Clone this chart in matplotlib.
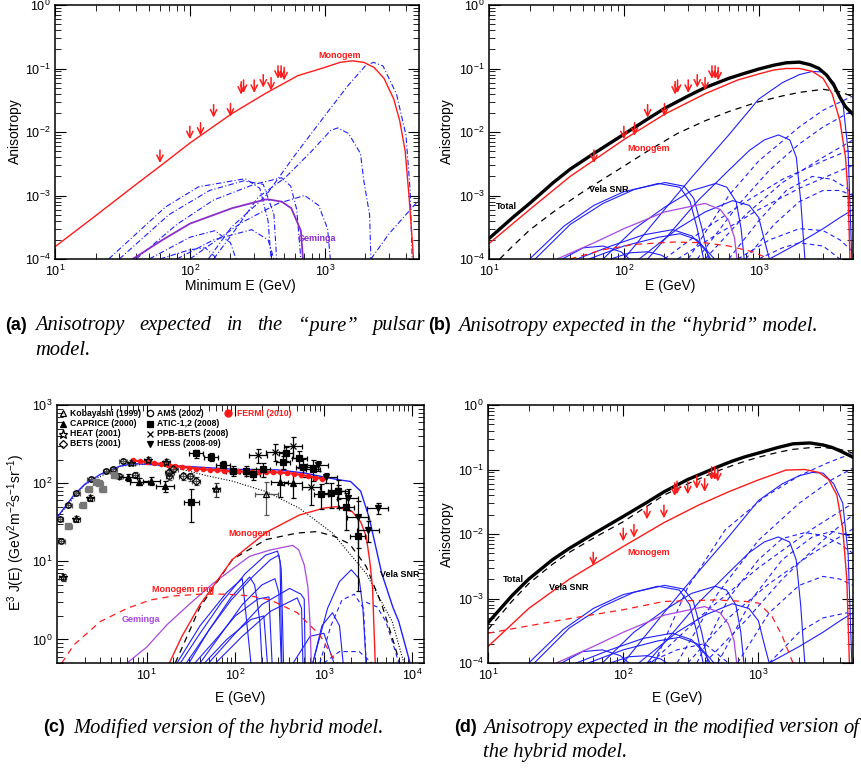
import matplotlib
matplotlib.use("Agg")
import matplotlib.pyplot as plt
from matplotlib.ticker import LogLocator, NullFormatter, FixedLocator

plt.rcParams['font.family'] = ['Liberation Sans', 'DejaVu Sans']
plt.rcParams['mathtext.fontset'] = 'custom'
plt.rcParams['mathtext.rm'] = 'Liberation Sans'
plt.rcParams['mathtext.it'] = 'Liberation Sans:italic'
plt.rcParams['mathtext.bf'] = 'Liberation Sans:bold'

BLUE = '#1f1fff'
RED = '#ff1a1a'
PURPLE_A = '#8a2dc8'
PURPLE = '#a848e0'

# ---------------- Fermi upper limits (same in a, b, d) ----------------
lim_E = [60, 100, 120, 150, 200, 240, 250, 300, 350, 400, 450, 475, 500]
lim_A = [5.2e-3, 0.0123, 0.014, 0.027, 0.028, 0.062, 0.066, 0.066, 0.08, 0.072, 0.11, 0.11, 0.104]

# ---------------- panel (a): pure pulsar model ----------------
a_monogem_E = [10, 20, 40, 62.7, 100, 205, 360, 630, 1000, 1300, 1600, 1950, 2320, 2750, 3250, 3600,
               3950, 4220, 4420, 4550]
a_monogem_A = [1.56e-4, 4.8e-4, 1.5e-3, 3.1e-3, 6.7e-3, 0.0195, 0.04, 0.077, 0.104, 0.125, 0.132, 0.125,
               0.104, 0.07, 0.033, 0.015, 5e-3, 9.5e-4, 2.5e-4, 1e-4]
a_geminga_E = [37.7, 62.7, 100, 205, 360, 380, 480, 565, 665, 690]
a_geminga_A = [1e-4, 2e-4, 3.6e-4, 6.3e-4, 8.6e-4, 8.7e-4, 8.0e-4, 6.3e-4, 2.8e-4, 1e-4]
a_pulsars = [
    ([137, 204, 360, 600, 1000, 1500, 2000, 2300, 2700, 3400, 4000, 4300, 4450],
     [1e-4, 3.2e-4, 9.5e-4, 4.3e-3, 0.018, 0.055, 0.11, 0.125, 0.11, 0.04, 9e-3, 1.2e-3, 1e-4]),
    ([150, 220, 321, 508, 800, 1107, 1250, 1500, 1840, 1950, 2150, 2200],
     [1e-4, 3e-4, 9.4e-4, 1.9e-3, 5e-3, 0.0106, 0.0116, 0.0095, 4.6e-3, 1.7e-3, 5e-4, 1e-4]),
    ([25, 66, 116, 257, 330, 380, 400], [1e-4, 6.6e-4, 1.37e-3, 1.84e-3, 1.3e-3, 4e-4, 1e-4]),
    ([30, 70, 140, 250, 350, 420, 440], [1e-4, 5e-4, 1.2e-3, 1.7e-3, 1.5e-3, 5e-4, 1e-4]),
    ([40, 80, 150, 300, 478, 560, 620, 665], [1e-4, 3.5e-4, 8.5e-4, 1.5e-3, 1.9e-3, 1.4e-3, 6e-4, 1e-4]),
    ([100, 240, 450, 709, 900, 1050, 1100], [1e-4, 3.7e-4, 7.5e-4, 1e-3, 7e-4, 3e-4, 1e-4]),
    ([80, 150, 287, 380, 420], [1e-4, 2e-4, 2.9e-4, 2e-4, 1e-4]),
    ([50, 100, 154, 200, 220], [1e-4, 2.2e-4, 2.8e-4, 1.8e-4, 1e-4]),
    ([60, 100, 130, 160], [1e-4, 1.4e-4, 1.5e-4, 1e-4]),
    ([2200, 3000, 4000, 5000], [1e-4, 2.5e-4, 5e-4, 8.5e-4]),
]

# ---------------- panel (b): hybrid model ----------------
b_total_E = [10, 15, 20, 30, 40, 60, 100, 150, 200, 300, 400, 600, 800, 1000, 1300, 1600, 2000, 2400,
             2800, 3200, 3600, 4000, 4400, 5000]
b_total_A = [2.1e-4, 4.5e-4, 7.5e-4, 1.6e-3, 2.6e-3, 4.6e-3, 9.2e-3, 0.016, 0.0235, 0.037, 0.05, 0.07,
             0.085, 0.098, 0.113, 0.123, 0.126, 0.115, 0.1, 0.078, 0.055, 0.035, 0.025, 0.019]
b_monogem_E = [10, 20, 40, 60, 100, 200, 400, 700, 1000, 1300, 1600, 2000, 2500, 3000, 3500, 4000, 4400,
               4600, 4750]
b_monogem_A = [1.75e-4, 6e-4, 2e-3, 3.6e-3, 7.6e-3, 0.019, 0.04, 0.066, 0.082, 0.095, 0.1, 0.1, 0.09,
               0.07, 0.04, 0.015, 4e-3, 1e-3, 1e-4]
b_vela_E = [12, 15, 20, 30, 50, 100, 150, 250, 400, 600, 1000, 1500, 2000, 3000, 4000, 5000]
b_vela_A = [1e-4, 1.6e-4, 2.85e-4, 5.5e-4, 1.15e-3, 2.9e-3, 5e-3, 9.5e-3, 0.015, 0.021, 0.03, 0.037,
            0.042, 0.047, 0.043, 0.036]
b_ring_E = [40, 70, 120, 235, 400, 600, 900, 1200]
b_ring_A = [1e-4, 1.4e-4, 1.7e-4, 1.85e-4, 1.8e-4, 1.6e-4, 1.3e-4, 1e-4]
bd_geminga_E = [32, 60, 100, 200, 400, 520, 600, 660, 690]
bd_geminga_A = [1e-4, 1.8e-4, 3e-4, 5.5e-4, 7.5e-4, 6e-4, 4e-4, 2.2e-4, 1e-4]
bd_pulsars_solid = [
    ([100, 200, 320, 600, 1000, 1500, 2000, 2500, 3000, 3600, 4200, 4600, 4900],
     [1e-4, 6e-4, 1.96e-3, 9e-3, 0.033, 0.06, 0.08, 0.09, 0.088, 0.06, 0.03, 5e-3, 1e-4]),
    ([150, 250, 358, 600, 850, 1100, 1400, 1700, 1900, 2050, 2200],
     [1e-4, 3.5e-4, 8.5e-4, 2.5e-3, 5.1e-3, 7.5e-3, 9e-3, 7.5e-3, 4e-3, 8e-4, 1e-4]),
    ([20, 36, 60, 100, 202, 280, 330, 380, 425], [1e-4, 3.3e-4, 7e-4, 1.15e-3, 1.6e-3, 1.4e-3, 9e-4, 3e-4, 1e-4]),
    ([22, 40, 70, 120, 180, 260, 310, 350, 390], [1e-4, 3.5e-4, 7.5e-4, 1.25e-3, 1.55e-3, 1.35e-3, 8e-4, 3e-4, 1e-4]),
    ([70, 120, 202, 320, 480, 580, 680, 740, 780], [1e-4, 3e-4, 6.6e-4, 1.2e-3, 1.55e-3, 1.35e-3, 8e-4, 3e-4, 1e-4]),
    ([130, 250, 400, 640, 850, 1000, 1100, 1200], [1e-4, 3e-4, 5.5e-4, 8.3e-4, 7e-4, 4.5e-4, 2e-4, 1e-4]),
    ([45, 80, 140, 230, 320, 400, 440], [1e-4, 1.6e-4, 2.4e-4, 2.9e-4, 2.3e-4, 1.4e-4, 1e-4]),
    ([55, 100, 180, 260, 350, 420, 470], [1e-4, 1.6e-4, 2.2e-4, 2.5e-4, 2e-4, 1.3e-4, 1e-4]),
    ([35, 50, 70, 95, 110], [1e-4, 1.5e-4, 1.6e-4, 1.3e-4, 1e-4]),
    ([80, 110, 150, 190, 210], [1e-4, 1.25e-4, 1.3e-4, 1.15e-4, 1e-4]),
    ([1200, 2000, 3000, 4000, 5000], [1e-4, 1.8e-4, 3e-4, 4.5e-4, 6e-4]),
]
b_pulsars_dashed = [
    ([300, 600, 1000, 2000, 3000, 5000], [1e-4, 1e-3, 3.5e-3, 0.012, 0.022, 0.037]),
    ([350, 700, 1200, 2000, 3000, 5000], [1e-4, 7e-4, 2.5e-3, 6.5e-3, 0.012, 0.022]),
    ([400, 800, 1500, 3000, 5000], [1e-4, 5e-4, 1.6e-3, 4e-3, 7.5e-3]),
    ([600, 1000, 1600, 2500, 3500, 4500, 5000], [1e-4, 4e-4, 1.2e-3, 2e-3, 1.8e-3, 1.3e-3, 1e-3]),
    ([800, 1300, 2000, 3000, 4000, 5000], [1e-4, 3.5e-4, 8e-4, 1.2e-3, 1.2e-3, 1e-3]),
    ([700, 1200, 2000, 3000, 4000, 5000], [1e-4, 2e-4, 3e-4, 2.8e-4, 2e-4, 1.3e-4]),
    ([200, 400, 800, 1500, 3000, 5000], [1e-4, 3e-4, 8e-4, 1.8e-3, 3.5e-3, 5.5e-3]),
    ([250, 500, 1000, 2000, 5000], [1e-4, 2.5e-4, 6e-4, 1.3e-3, 3e-3]),
    ([1000, 1500, 2000, 3000, 4000], [1e-4, 1.5e-4, 1.8e-4, 1.6e-4, 1e-4]),
]

# ---------------- panel (d): modified hybrid anisotropy ----------------
d_total_E = [10, 15, 20, 30, 40, 60, 100, 150, 200, 300, 400, 500, 640, 800, 1000, 1400, 1800, 2400,
             3000, 3500, 4000, 5000]
d_total_A = [4.2e-4, 1.1e-3, 2.0e-3, 4e-3, 6e-3, 1e-2, 0.0187, 0.031, 0.045, 0.07, 0.09, 0.11, 0.135,
             0.158, 0.18, 0.22, 0.25, 0.258, 0.24, 0.22, 0.195, 0.155]
d_vela_E = [10, 15, 20, 30, 40, 60, 100, 150, 200, 300, 400, 500, 640, 800, 1000, 1400, 1800, 2400,
            3000, 4000, 5000]
d_vela_A = [3.3e-4, 9e-4, 1.7e-3, 3.4e-3, 5.2e-3, 8.6e-3, 0.0155, 0.027, 0.04, 0.06, 0.078, 0.095,
            0.115, 0.135, 0.155, 0.185, 0.205, 0.218, 0.22, 0.205, 0.18]
d_monogem_E = [10, 20, 40, 100, 200, 360, 600, 1000, 1600, 2200, 2800, 3300, 3800, 4200, 4500, 4700]
d_monogem_A = [1.8e-4, 7e-4, 2e-3, 6.4e-3, 0.015, 0.028, 0.045, 0.069, 0.098, 0.1, 0.09, 0.07, 0.04,
               0.012, 2e-3, 1e-4]
d_ring_E = [10, 36, 100, 200, 480, 800, 1000, 1260, 1500, 1800]
d_ring_A = [2.9e-4, 4.7e-4, 6.7e-4, 9e-4, 9.5e-4, 9e-4, 8.5e-4, 5.3e-4, 2.6e-4, 1e-4]
d_pulsars_dashed = [
    ([170, 300, 568, 1120, 2000, 3200, 5000], [1e-4, 1.5e-3, 0.0116, 0.038, 0.08, 0.125, 0.18]),
    ([250, 500, 1000, 2000, 3500, 5000], [1e-4, 1.2e-3, 8e-3, 0.03, 0.07, 0.105]),
    ([350, 600, 1000, 1500, 2200, 3000, 4000, 5000], [1e-4, 1e-3, 4e-3, 8.5e-3, 0.0105, 0.0095, 7e-3, 5e-3]),
    ([500, 900, 1500, 2500, 3500, 5000], [1e-4, 1e-3, 4e-3, 9e-3, 0.011, 0.009]),
    ([300, 600, 1200, 2500, 5000], [1e-4, 5e-4, 1.7e-3, 5e-3, 0.012]),
    ([700, 1200, 2000, 3000, 4000, 5000], [1e-4, 6e-4, 1.6e-3, 2.2e-3, 2e-3, 1.6e-3]),
    ([160, 400, 1000, 2500, 5000], [1e-4, 6e-4, 3e-3, 0.012, 0.03]),
    ([150, 250, 400, 600], [1e-4, 1.6e-4, 2e-4, 1e-4]),
    ([1200, 2000, 3000, 4500, 5000], [1e-4, 3e-4, 5e-4, 6e-4, 5.5e-4]),
    ([400, 800, 1500, 3000, 5000], [1e-4, 4.5e-4, 2e-3, 8e-3, 0.02]),
]

# ---------------- panel (c): electron spectrum ----------------
c_total_E = [1, 1.5, 2, 3, 5, 7, 15, 40, 100, 300, 600, 1000, 1500, 2000, 2600, 3250, 4500, 6000, 7000, 9400]
c_total_J = [38, 70, 97, 130, 165, 178, 170, 160, 150, 148, 135, 120, 110, 105, 79, 36, 7, 2.6, 1.7, 0.5]
c_bkg_E = [1, 2, 5, 10, 20, 47, 93, 223, 525, 1250, 3000, 5900, 8000]
c_bkg_J = [38, 96, 165, 175, 160, 125, 106, 78, 48, 23, 7, 1.7, 0.5]
c_vela_E = [21, 40, 93, 223, 500, 830, 1300, 1950, 3000, 4500, 6000, 7200]
c_vela_J = [0.5, 2.6, 10.6, 19, 23, 24, 21, 16.7, 8.6, 2.8, 1.0, 0.5]
c_monogem_E = [18, 25, 40, 93, 223, 525, 1000, 1380, 2100, 2600, 3000, 3300, 3540, 3800]
c_monogem_J = [0.5, 1.1, 2.8, 10.6, 23.5, 39, 48, 50, 43, 32, 21, 10, 4.7, 0.5]
c_ring_E = [1.1, 1.5, 3, 6, 11, 20, 40, 80, 150, 250, 500, 900, 1250, 1450]
c_ring_J = [0.5, 0.85, 1.7, 2.5, 3.2, 3.6, 3.8, 3.8, 3.6, 3.2, 2.2, 1.14, 0.6, 0.5]
c_geminga_E = [6, 10, 17, 30, 56, 100, 145, 250, 445, 520, 600, 660, 700, 720]
c_geminga_J = [0.5, 0.8, 1.55, 2.8, 5.2, 8.5, 11.6, 14, 16, 14, 9, 4.7, 1.5, 0.5]
c_pulsars_solid = [
    ([24, 40, 70, 130, 220, 300, 320, 335], [0.5, 1.2, 3, 7, 12, 13.5, 10, 0.5]),
    ([28, 50, 90, 160, 250, 310, 330, 350], [0.5, 1.3, 3.2, 6.5, 10.5, 12, 8, 0.5]),
    ([30, 50, 90, 145, 165, 175, 190, 200], [0.5, 1.3, 3.5, 6.3, 5, 3.3, 1.6, 0.5]),
    ([40, 70, 120, 200, 280, 310, 330], [0.5, 1.2, 2.8, 5, 6, 4, 0.5]),
    ([50, 100, 200, 410, 550, 600, 615], [0.5, 1.2, 2.8, 4.5, 3.8, 3.3, 0.5]),
    ([60, 120, 250, 500, 560, 580], [0.5, 1.1, 2.3, 3.4, 2.5, 0.5]),
    ([750, 1100, 1500, 2040, 2500, 2750, 3000], [0.5, 2.5, 5.5, 7.8, 6, 2.6, 0.5]),
    ([750, 950, 1250, 1500, 1650], [0.5, 1.5, 2.2, 1.5, 0.5]),
    ([450, 700, 1000, 1300], [0.5, 1.1, 1.2, 0.5]),
    ([35, 60, 100, 180, 240, 260], [0.5, 1.0, 2.0, 3.3, 3.5, 0.5]),
    ([45, 80, 150, 210, 230], [0.5, 1.0, 1.8, 2.0, 0.5]),
    ([22, 40, 80, 120, 150], [0.5, 1.5, 4, 6, 0.5]),
]
c_pulsars_dashed = [
    ([900, 1200, 1600, 2200, 2800, 3000], [0.5, 1.5, 3.2, 3.8, 2.5, 0.5]),
    ([3000, 4000, 5000, 6000, 7000], [3.0, 2.6, 1.7, 0.9, 0.5]),
    ([1000, 1500, 2500, 3500], [0.5, 0.7, 0.7, 0.5]),
]

# measurements: energy, flux, relative error
ams_E = [1.04, 1.09, 1.3, 1.6, 2.35, 3.5, 4.2, 4.9, 5.4, 7.4, 18, 31]
ams_J = [35, 18.3, 53, 75, 113, 145, 152, 122, 193, 128, 122, 122]
ams_err = [0.06, 0.06, 0.06, 0.06, 0.06, 0.06, 0.06, 0.06, 0.06, 0.08, 0.1, 0.12]
heat_E = [1.13, 1.6, 2.3, 6.7, 10.3, 16.7, 61]
heat_J = [6.3, 35, 65, 183, 200, 185, 83]
heat_err = [0.1, 0.08, 0.08, 0.08, 0.08, 0.1, 0.2]
caprice_E = [6.2, 8.2, 11.3, 16, 316, 450]
caprice_J = [119, 105, 107, 92, 102, 100]
caprice_err = [0.1, 0.1, 0.12, 0.15, 0.35, 0.35]
bets_E = [18, 20, 26, 36]
bets_J = [138, 152, 122, 107]
bets_err = [0.08, 0.08, 0.1, 0.12]
gray_E = [1.3, 1.9, 2.2, 2.7, 2.9, 3.2, 4.3]
gray_J = [28, 53, 83, 102, 100, 83, 127]
gray_err = [0.08, 0.08, 0.08, 0.08, 0.08, 0.08, 0.08]
atic_E = [32, 36, 53.5, 73, 94, 133, 158, 205, 345, 375, 530, 575, 750, 935, 1210, 1440, 1800, 2400]
atic_J = [58, 240, 218, 169, 145, 145, 131, 150, 187, 240, 207, 161, 153, 72, 75, 79, 50, 21]
atic_err = [0.45, 0.12, 0.12, 0.12, 0.15, 0.15, 0.15, 0.2, 0.2, 0.2, 0.25, 0.25, 0.3, 0.35, 0.35, 0.4, 0.5, 0.8]
ppb_E = [180, 277, 445, 720]
ppb_J = [229, 253, 300, 88]
ppb_err = [0.2, 0.25, 0.3, 0.4]
hess_E = [850, 1070, 1450, 1860, 2400, 3150, 4060]
hess_J = [169, 119, 79, 65, 37, 25, 48]
hess_err = [0.15, 0.15, 0.2, 0.3, 0.6, 0.3, 0.15]
koba_E = [224]
koba_J = [72]
koba_err = [0.45]
fermi_E = [7, 8.5, 10, 12, 14.5, 17.5, 21, 25, 30, 36, 43, 52, 62, 75, 90, 108, 130, 155, 185, 220,
           265, 320, 380, 460, 550, 660, 790, 950]
fermi_J = [195, 190, 186, 181, 176, 171, 166, 162, 158, 154, 151, 148, 146, 144, 142, 141, 140, 139,
           139, 138, 138, 137, 135, 132, 128, 123, 118, 114]

legend_labels = ['Kobayashi (1999)', 'CAPRICE (2000)', 'HEAT (2001)', 'BETS (2001)',
                 'AMS (2002)', 'ATIC-1,2 (2008)', 'PPB-BETS (2008)', 'HESS (2008-09)', 'FERMI (2010)']

W, H = 862, 774


def px_axes(x0, y0, x1, y1):
    return fig.add_axes([x0 / W, 1 - y1 / H, (x1 - x0) / W, (y1 - y0) / H])


def style(ax, xlim, ylim, xmajor=None):
    ax.set_xscale('log')
    ax.set_yscale('log')
    ax.set_xlim(*xlim)
    ax.set_ylim(*ylim)
    for axis in (ax.xaxis, ax.yaxis):
        axis.set_minor_locator(LogLocator(base=10, subs=range(2, 10), numticks=20))
        axis.set_minor_formatter(NullFormatter())
    if xmajor is not None:
        ax.xaxis.set_major_locator(FixedLocator(xmajor))
    ax.tick_params(which='both', direction='in', top=True, right=True, labelsize=9)
    ax.tick_params(which='major', length=8, width=0.8)
    ax.tick_params(which='minor', length=4, width=0.6)
    ax.tick_params(axis='x', which='major', pad=3.5)
    ax.tick_params(axis='y', which='major', pad=3)
    for s in ax.spines.values():
        s.set_linewidth(1.1)


def arrows(ax):
    for e, a in zip(lim_E, lim_A):
        ax.annotate('', xy=(e, a / 1.6), xytext=(e, a),
                    arrowprops=dict(arrowstyle='->,head_length=0.5,head_width=0.25', color=RED,
                                    lw=1.1, mutation_scale=9, shrinkA=0, shrinkB=0))


def label(text, x, y, size=10, rot=0):
    fig.text(x / W, 1 - y / H, text, fontsize=size, rotation=rot, ha='center', va='center')


def tag(ax, x, y, text, color='black', ha='center'):
    ax.text(x, y, text, color=color, fontsize=6.5, fontweight='bold', ha=ha, va='center')


fig = plt.figure(figsize=(W / 100, H / 100), dpi=100)

# ---- (a)
ax = px_axes(55, 5, 419, 259)
style(ax, (10, 5000), (1e-4, 1))
for E, A in a_pulsars:
    ax.plot(E, A, color=BLUE, lw=0.8, ls=(0, (5, 2, 1, 2)))
ax.plot(a_geminga_E, a_geminga_A, color=PURPLE_A, lw=1.3)
ax.plot(a_monogem_E, a_monogem_A, color=RED, lw=1.0)
arrows(ax)
tag(ax, 1290, 0.16, 'Monogem', RED)
tag(ax, 870, 2.1e-4, 'Geminga', PURPLE_A)
label('Anisotropy', 15, 131, rot=90)
label('Minimum E (GeV)', 240, 286)

# ---- (b)
ax = px_axes(489, 5, 853, 259)
style(ax, (10, 5000), (1e-4, 1))
for E, A in b_pulsars_dashed:
    ax.plot(E, A, color=BLUE, lw=0.8, ls=(0, (4, 3)))
for E, A in bd_pulsars_solid:
    ax.plot(E, A, color=BLUE, lw=0.8)
ax.plot(bd_geminga_E, bd_geminga_A, color=PURPLE, lw=0.9)
ax.plot(b_ring_E, b_ring_A, color=RED, lw=0.9, ls=(0, (5, 4)))
ax.plot(b_vela_E, b_vela_A, color='black', lw=0.9, ls=(0, (5, 4)))
ax.plot(b_monogem_E, b_monogem_A, color=RED, lw=1.0)
ax.plot(b_total_E, b_total_A, color='black', lw=2.4)
arrows(ax)
tag(ax, 13.4, 6.6e-4, 'Total')
tag(ax, 77, 1.26e-3, 'Vela SNR')
tag(ax, 153, 5.5e-3, 'Monogem', RED)
label('Anisotropy', 447, 131, rot=90)
label('E (GeV)', 670, 286)

# ---- (c)
ax = px_axes(57, 405, 424, 663)
style(ax, (0.97, 1.35e4), (0.5, 1000), xmajor=[10, 100, 1000, 10000])
for E, J in c_pulsars_dashed:
    ax.plot(E, J, color=BLUE, lw=0.8, ls=(0, (4, 3)))
for E, J in c_pulsars_solid:
    ax.plot(E, J, color=BLUE, lw=0.8)
ax.plot(c_geminga_E, c_geminga_J, color=PURPLE, lw=0.9)
ax.plot(c_ring_E, c_ring_J, color=RED, lw=0.9, ls=(0, (5, 4)))
ax.plot(c_bkg_E, c_bkg_J, color='black', lw=0.8, ls=(0, (1, 1.5)))
ax.plot(c_vela_E, c_vela_J, color='black', lw=0.9, ls=(0, (5, 4)))
ax.plot(c_monogem_E, c_monogem_J, color=RED, lw=1.0)
ax.plot(c_total_E, c_total_J, color=BLUE, lw=1.0)

# (values, errors, bin half width in dex, marker, face, edge, bar colour, legend slot)
sets = [
    (ams_E, ams_J, ams_err, 0.04, 'o', 'none', 'black', '#555555', 4),
    (gray_E, gray_J, gray_err, 0.04, 's', '#777777', '#777777', '#777777', None),
    (heat_E, heat_J, heat_err, 0.04, '*', 'none', 'black', '#333333', 2),
    (caprice_E, caprice_J, caprice_err, 0.1, '^', 'black', 'black', 'black', 1),
    (bets_E, bets_J, bets_err, 0.05, 'D', 'none', 'black', '#555555', 3),
    (atic_E, atic_J, atic_err, 0.08, 's', 'black', 'black', 'black', 5),
    (ppb_E, ppb_J, ppb_err, 0.1, 'x', 'black', 'black', 'black', 6),
    (hess_E, hess_J, hess_err, 0.12, 'v', 'black', 'black', 'black', 7),
    (koba_E, koba_J, koba_err, 0.13, '^', 'none', 'black', '#555555', 0),
]
legend_rows = [0.968, 0.927, 0.888, 0.849]
legend_cols = [(0.017, 0.036), (0.254, 0.273), (0.466, 0.49)]
for E, J, err, dx, mk, fc, mc, ec, slot in sets:
    dy = [j * r for j, r in zip(J, err)]
    xerr = [[e - e / 10 ** dx for e in E], [e * 10 ** dx - e for e in E]]
    ms = 6 if mk == '*' else 4
    ax.errorbar(E, J, yerr=[dy, dy], xerr=xerr, fmt=mk, ms=ms, mfc=fc, mec=mc, mew=0.9,
                ls='none', ecolor=ec, elinewidth=0.9, capsize=1.8, capthick=0.8)
    if slot is not None:
        mx, tx = legend_cols[slot // 4]
        yy = legend_rows[slot % 4]
        ax.plot([mx], [yy], marker=mk, ms=ms + 0.5, mfc=fc, mec='black', mew=0.9,
                transform=ax.transAxes, clip_on=False)
        ax.text(tx, yy, legend_labels[slot], transform=ax.transAxes, fontsize=6.2,
                fontweight='bold', va='center', ha='left')
ax.plot(fermi_E, fermi_J, color=RED, lw=1.6, marker='o', ms=3, mec=RED)
mx, tx = legend_cols[2]
ax.plot([mx], [legend_rows[0]], marker='o', ms=5, color=RED, transform=ax.transAxes)
ax.text(tx, legend_rows[0], legend_labels[8], color=RED, transform=ax.transAxes, fontsize=6.2,
        fontweight='bold', va='center', ha='left')

tag(ax, 145, 22.7, 'Monogem', RED)
tag(ax, 25.5, 4.4, 'Monogem ring', RED)
tag(ax, 8.6, 1.78, 'Geminga', PURPLE)
tag(ax, 4300, 6.8, 'Vela SNR', ha='left')
label(r'E$^3$ J(E) (GeV$^2$m$^{-2}$s$^{-1}$sr$^{-1}$)', 16, 532, rot=90)
label('E (GeV)', 240, 698)

# ---- (d)
ax = px_axes(488, 405, 853, 663)
style(ax, (10, 5000), (1e-4, 1))
for E, A in d_pulsars_dashed:
    ax.plot(E, A, color=BLUE, lw=0.8, ls=(0, (4, 3)))
for E, A in bd_pulsars_solid:
    ax.plot(E, A, color=BLUE, lw=0.8)
ax.plot(bd_geminga_E, bd_geminga_A, color=PURPLE, lw=0.9)
ax.plot(d_ring_E, d_ring_A, color=RED, lw=0.9, ls=(0, (5, 4)))
ax.plot(d_vela_E, d_vela_A, color='black', lw=0.9, ls=(0, (5, 4)))
ax.plot(d_monogem_E, d_monogem_A, color=RED, lw=1.0)
ax.plot(d_total_E, d_total_A, color='black', lw=2.4)
arrows(ax)
tag(ax, 15.4, 1.94e-3, 'Total')
tag(ax, 39.6, 1.5e-3, 'Vela SNR')
tag(ax, 153, 5.1e-3, 'Monogem', RED)
label('Anisotropy', 447, 534, rot=90)
label('E (GeV)', 677, 698)

# ---- captions
cap_lab = dict(fontsize=13, fontweight='bold', family='Liberation Sans', va='center')
cap_txt = dict(fontsize=14.8, style='italic', family='Liberation Serif', va='center')
renderer = fig.canvas.get_renderer()


def justified(x0, x1, y, text):
    words = [fig.text(0, 1 - y / H, w, **cap_txt) for w in text.split()]
    widths = [t.get_window_extent(renderer).width for t in words]
    gap = max((x1 - x0 - sum(widths)) / (len(words) - 1), 4)
    x = x0
    for t, w in zip(words, widths):
        t.set_x(x / W)
        x += w + gap


fig.text(5 / W, 1 - 326 / H, '(a)', **cap_lab)
justified(35, 425, 326, 'Anisotropy expected in the \u201cpure\u201d pulsar')
fig.text(35 / W, 1 - 351 / H, 'model.', **cap_txt)
fig.text(428 / W, 1 - 326 / H, '(b)', **cap_lab)
fig.text(458 / W, 1 - 326 / H, 'Anisotropy expected in the \u201chybrid\u201d model.', **cap_txt)
fig.text(43 / W, 1 - 728 / H, '(c)', **cap_lab)
fig.text(73 / W, 1 - 728 / H, 'Modified version of the hybrid model.', **cap_txt)
fig.text(454 / W, 1 - 728 / H, '(d)', **cap_lab)
justified(483, 859, 728, 'Anisotropy expected in the modified version of')
fig.text(483 / W, 1 - 753 / H, 'the hybrid model.', **cap_txt)

fig.savefig('out.png', dpi=100)
